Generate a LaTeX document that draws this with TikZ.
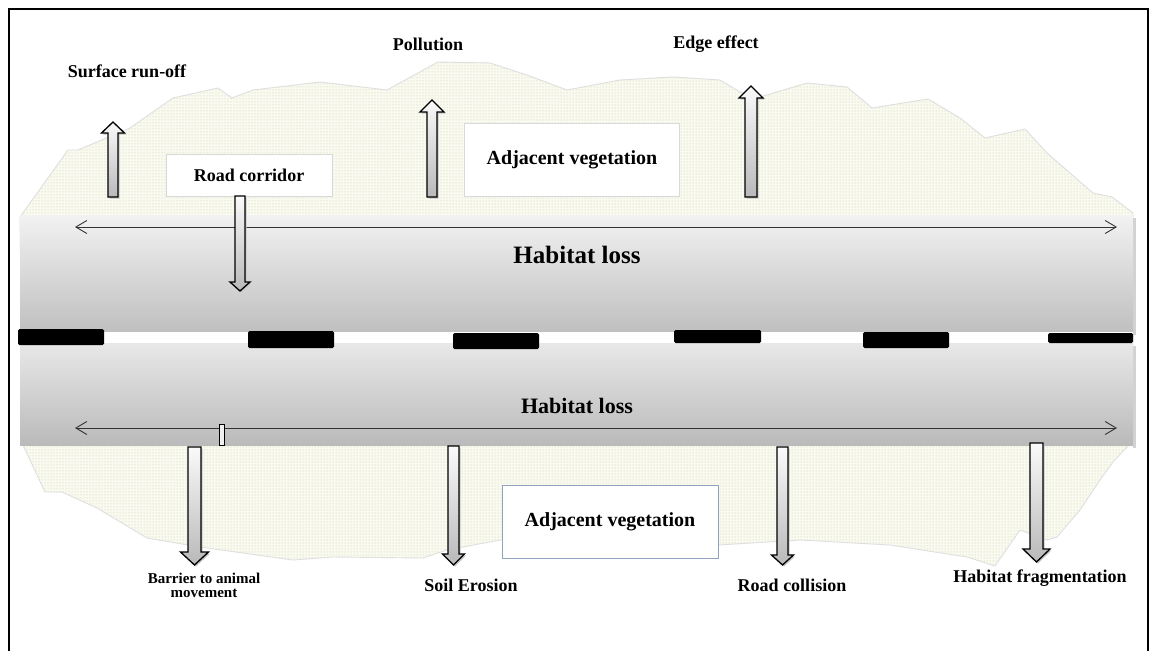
\documentclass[tikz,border=0pt]{standalone}
\usepackage{fontspec}
\setmainfont{Liberation Serif}
\usetikzlibrary{arrows.meta,positioning,patterns}
\definecolor{vegfill}{RGB}{250,250,241}
\definecolor{vegdot}{RGB}{192,202,160}
\definecolor{boxblue}{RGB}{143,163,191}
% block arrow: x, tail y, head base y, tip y, shaft half, head half
\newcommand{\blockarr}[6]{%
  \fill[gray!45,shift={(1.5,1.5)}] (#1-#5,#2) -- (#1-#5,#3) -- (#1-#6,#3) -- (#1,#4)
    -- (#1+#6,#3) -- (#1+#5,#3) -- (#1+#5,#2) -- cycle;
  \draw[blockfill] (#1-#5,#2) -- (#1-#5,#3) -- (#1-#6,#3) -- (#1,#4)
    -- (#1+#6,#3) -- (#1+#5,#3) -- (#1+#5,#2) -- cycle;}

\begin{document}
\begin{tikzpicture}[x=1pt,y=-1pt,
  lab/.style={font=\bfseries\fontsize{18}{20}\selectfont,inner sep=0pt},
  whitebox/.style={draw=gray!30,fill=white,line width=0.8pt,
              font=\bfseries\fontsize{20}{22}\selectfont},
  blockfill/.style={draw=black,line width=1.3pt,line join=miter,
              top color=gray!4,bottom color=gray!55},
  lossarrow/.style={{Straight Barb[length=11pt,width=13pt]}-{Straight Barb[length=11pt,width=13pt]},
              line width=0.9pt,black!80},
  lanemark/.style={fill=black,rounded corners=1.5pt}]
\useasboundingbox (0,0) rectangle (1152,651);
\fill[white] (0,0) rectangle (1152,651);

% ------------- vegetation -------------
\path[fill=vegfill] (20,217) -- (68,150) -- (78,150) -- (130,128) -- (173,98) -- (218,88)
  -- (232,98) -- (253,90) -- (320,82) -- (387,90) -- (438,62) -- (490,63) -- (527,75)
  -- (567,90) -- (620,80) -- (673,77) -- (720,80) -- (740,92) -- (760,97) -- (807,83)
  -- (847,87) -- (872,108) -- (928,99) -- (960,118) -- (985,138) -- (1025,129)
  -- (1047,153) -- (1093,193) -- (1112,197) -- (1133,213) -- (1133,442) -- (1127,447)
  -- (1113,462) -- (1100,480) -- (1080,510) -- (1057,537) -- (1047,540) -- (1020,530)
  -- (995,566) -- (967,557) -- (890,545) -- (800,540) -- (718,545) -- (500,540)
  -- (447,550) -- (423,558) -- (333,557) -- (293,560) -- (200,547) -- (147,538)
  -- (97,508) -- (62,492) -- (45,492) -- (23,445) -- cycle;
\path[pattern=dots,pattern color=vegdot,draw=gray!25,line width=0.9pt]
  (20,217) -- (68,150) -- (78,150) -- (130,128) -- (173,98) -- (218,88)
  -- (232,98) -- (253,90) -- (320,82) -- (387,90) -- (438,62) -- (490,63) -- (527,75)
  -- (567,90) -- (620,80) -- (673,77) -- (720,80) -- (740,92) -- (760,97) -- (807,83)
  -- (847,87) -- (872,108) -- (928,99) -- (960,118) -- (985,138) -- (1025,129)
  -- (1047,153) -- (1093,193) -- (1112,197) -- (1133,213) -- (1133,442) -- (1127,447)
  -- (1113,462) -- (1100,480) -- (1080,510) -- (1057,537) -- (1047,540) -- (1020,530)
  -- (995,566) -- (967,557) -- (890,545) -- (800,540) -- (718,545) -- (500,540)
  -- (447,550) -- (423,558) -- (333,557) -- (293,560) -- (200,547) -- (147,538)
  -- (97,508) -- (62,492) -- (45,492) -- (23,445) -- cycle;

% ------------- road -------------
\fill[gray!35] (1133,218) rectangle (1136,335);
\fill[gray!35] (1133,346) rectangle (1136,448);
\shade[top color=gray!10,bottom color=gray!50] (20,215) rectangle (1133,332);
\fill[white] (20,332) rectangle (1133,343);
\shade[top color=gray!18,bottom color=gray!54] (20,343) rectangle (1133,445);
\foreach \xa/\ya/\xb/\yb in {18/329/104/345,248/331/334/348,453/333/539/349,
                             674/330/761/343,863/332/949/348,1048/333/1133/343}
  \fill[lanemark] (\xa,\ya) rectangle (\xb,\yb);

\coordinate (lossTW) at (75,227);
\coordinate (lossTE) at (1117,227);
\coordinate (lossBW) at (75,428);
\coordinate (lossBE) at (1117,428);
\draw[lossarrow] (lossTW) -- (lossTE);
\draw[lossarrow] (lossBW) -- (lossBE);
\node[lab,font=\bfseries\fontsize{25}{27}\selectfont] (lossT) at (577,255) {Habitat loss};
\node[lab,font=\bfseries\fontsize{22}{24}\selectfont] (lossB) at (577,406) {Habitat loss};
\draw[draw=black,line width=1pt,fill=gray!12] (219,424) rectangle (224,445);

% ------------- boxes -------------
\node[whitebox,minimum width=166pt,minimum height=42pt,
      font=\bfseries\fontsize{18}{20}\selectfont] (corr) at (249,175) {Road corridor};
\node[whitebox,minimum width=215pt,minimum height=73pt] (vegT) at (572,160) {Adjacent vegetation};
\node[whitebox,draw=boxblue,minimum width=216pt,minimum height=73pt] (vegB) at (610,522) {Adjacent vegetation};

% ------------- effects -------------
\blockarr{113}{197}{133}{122}{5}{11.5}
\blockarr{432}{197}{112}{100}{5}{12}
\blockarr{751}{197}{98}{86}{6}{12}
\blockarr{240}{196}{282}{291}{5}{10}
\blockarr{194.5}{447}{552}{565}{6.5}{14}
\blockarr{453.5}{446}{554}{565}{5.5}{11}
\blockarr{782.5}{447}{555}{565}{5.5}{11}
\blockarr{1036.5}{443}{549}{562}{6.5}{13.5}

\node[lab] (runoff) at (127,71) {Surface run-off};
\node[lab] (pollut) at (428,44) {Pollution};
\node[lab] (edge) at (716,44) {Edge effect};
\node[lab,align=center,font=\bfseries\fontsize{15}{14}\selectfont] (barrier) at (204,585)
  {Barrier to animal\\movement};
\node[lab] (erosion) at (471,585) {Soil Erosion};
\node[lab] (collis) at (792,585) {Road collision};
\node[lab] (fragm) at (1040,578) {Habitat fragmentation};

% ------------- frame -------------
\draw[line width=2pt] (9,660) -- (9,9) -- (1148,9) -- (1148,660);
\end{tikzpicture}
\end{document}
